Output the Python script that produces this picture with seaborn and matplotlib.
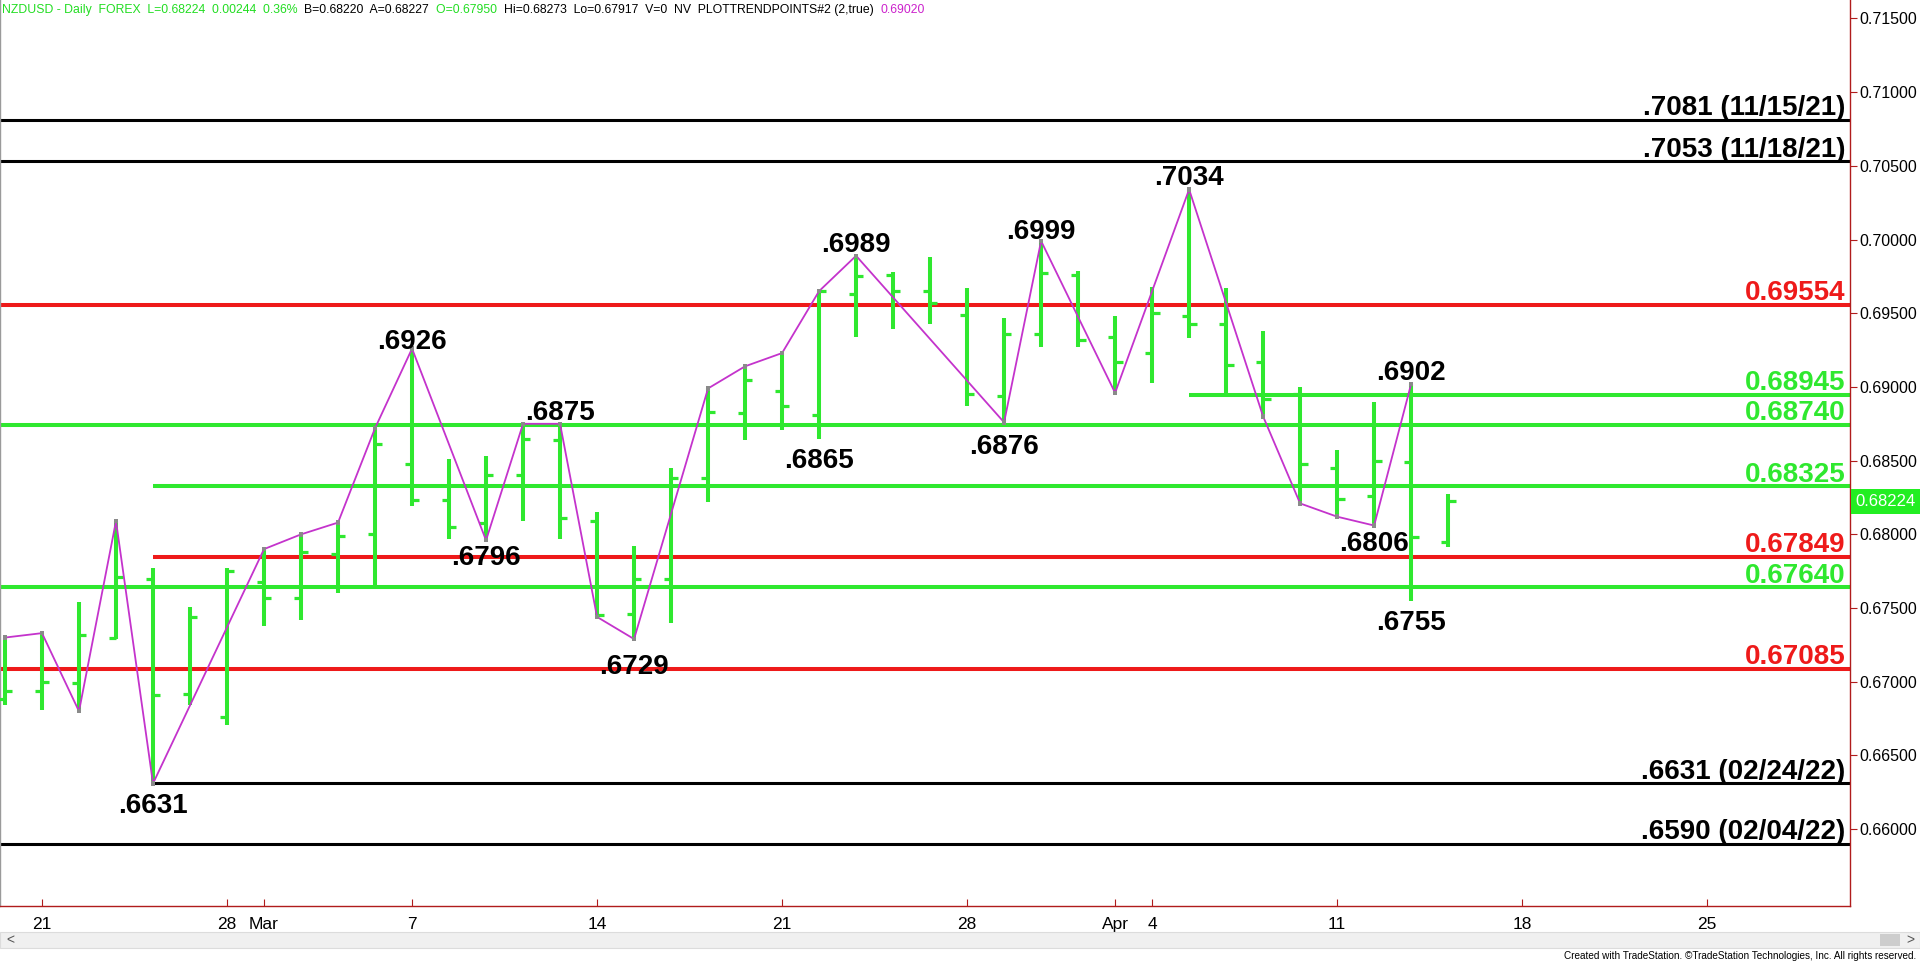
import matplotlib
matplotlib.use("Agg")
import matplotlib.pyplot as plt
import seaborn as sns
import numpy as np
from matplotlib.patches import Rectangle
from matplotlib.transforms import blended_transform_factory

# ---------------- data ----------------
dates = ["02-18", "02-21", "02-22", "02-23", "02-24", "02-25",
         "02-28", "03-01", "03-02", "03-03", "03-04",
         "03-07", "03-08", "03-09", "03-10", "03-11",
         "03-14", "03-15", "03-16", "03-17", "03-18",
         "03-21", "03-22", "03-23", "03-24", "03-25",
         "03-28", "03-29", "03-30", "03-31", "04-01",
         "04-04", "04-05", "04-06", "04-07", "04-08",
         "04-11", "04-12", "04-13", "04-14"]
opens = [0.6688, 0.6694, 0.6699, 0.6730, 0.6770, 0.6692, 0.6676, 0.6768, 0.6757, 0.6787,
         0.6800, 0.6848, 0.6823, 0.6808, 0.6840, 0.6864, 0.6809, 0.6746, 0.6770, 0.6838,
         0.6882, 0.6897, 0.6881, 0.6963, 0.6976, 0.6965, 0.6949, 0.6894, 0.6936, 0.6976,
         0.6934, 0.6923, 0.6948, 0.6943, 0.6917, 0.6895, 0.6845, 0.6826, 0.6849, 0.67950]
highs = [0.6730, 0.6733, 0.6754, 0.6809, 0.6777, 0.6751, 0.6777, 0.6790, 0.6800, 0.6808,
         0.6872, 0.6926, 0.6851, 0.6853, 0.6875, 0.6875, 0.6815, 0.6792, 0.6845, 0.6899,
         0.6914, 0.6923, 0.6965, 0.6989, 0.6978, 0.6988, 0.6967, 0.6947, 0.6999, 0.6979,
         0.6948, 0.6968, 0.7034, 0.6967, 0.6938, 0.6900, 0.6857, 0.6890, 0.6902, 0.68273]
lows = [0.6684, 0.6681, 0.6680, 0.6729, 0.6631, 0.6684, 0.6671, 0.6738, 0.6742, 0.6760,
        0.6765, 0.6819, 0.6797, 0.6796, 0.6809, 0.6797, 0.6744, 0.6729, 0.6740, 0.6822,
        0.6864, 0.6871, 0.6865, 0.6934, 0.6939, 0.6943, 0.6887, 0.6876, 0.6927, 0.6927,
        0.6896, 0.6903, 0.6933, 0.6895, 0.6880, 0.6821, 0.6812, 0.6806, 0.6755, 0.67917]
closes = [0.6694, 0.6700, 0.6732, 0.6771, 0.6691, 0.6744, 0.6775, 0.6757, 0.6788, 0.6799,
          0.6861, 0.6823, 0.6805, 0.6840, 0.6865, 0.6811, 0.6745, 0.6770, 0.6838, 0.6883,
          0.6905, 0.6887, 0.6965, 0.6975, 0.6965, 0.6957, 0.6895, 0.6936, 0.6977, 0.6932,
          0.6917, 0.6950, 0.6943, 0.6915, 0.6892, 0.6848, 0.6824, 0.6850, 0.6798, 0.68224]

# zigzag trend points (bar index, H/L)
pivot_idx = [0, 1, 2, 3, 4, 7, 8, 9, 10, 11, 13, 14, 15, 16, 17, 19, 20, 21, 22, 23,
             27, 28, 30, 32, 34, 35, 36, 37, 38]
pivot_kind = ["H", "H", "L", "H", "L", "H", "H", "H", "H", "H", "L", "H", "H", "L", "L",
              "H", "H", "H", "H", "H", "L", "H", "L", "H", "L", "L", "L", "L", "H"]

# labelled swing points
label_idx = [4, 11, 13, 15, 17, 22, 23, 27, 28, 32, 37, 38, 38]
label_kind = ["L", "H", "L", "H", "L", "L", "H", "L", "H", "H", "L", "H", "L"]
label_text = [".6631", ".6926", ".6796", ".6875", ".6729", ".6865", ".6989", ".6876",
              ".6999", ".7034", ".6806", ".6902", ".6755"]
# vertical text offsets in points (layout only)
label_dy = [-6.6, -0.5, -3.1, 3, -11, -6.6, 3, -8.4, 1.2, 3, -4, 3, -6.6]

# horizontal levels: value, label, colour key, start bar (None = full width)
level_values = [0.7081, 0.7053, 0.69554, 0.68945, 0.68740, 0.68325, 0.67849, 0.67640,
                0.67085, 0.6631, 0.6590]
level_labels = [".7081 (11/15/21)", ".7053 (11/18/21)", "0.69554", "0.68945", "0.68740",
                "0.68325", "0.67849", "0.67640", "0.67085", ".6631 (02/24/22)",
                ".6590 (02/04/22)"]
level_kinds = ["black", "black", "red", "green", "green", "green", "red", "green", "red",
               "black", "black"]
level_start = [None, None, None, 32, None, 4, 4, None, None, 4, None]

xtick_pos = [1, 6, 7, 11, 16, 21, 26, 30, 31, 36, 41, 46]
xtick_labels = ["21", "28", "Mar", "7", "14", "21", "28", "Apr", "4", "11", "18", "25"]
ytick_values = [0.660, 0.665, 0.670, 0.675, 0.680, 0.685, 0.690, 0.695, 0.700, 0.705,
                0.710, 0.715]
last_price = 0.68224

# ---------------- style ----------------
sns.set_theme(style="white")
plt.rcParams["font.family"] = ["Liberation Sans", "DejaVu Sans"]

GREEN = "#2fe82f"
RED = "#ee1a1a"
BLACK = "#000000"
MAGENTA = "#c433cc"
AXIS = "#b01c1c"
colmap = {"green": GREEN, "red": RED, "black": BLACK}

W, H = 1920, 963
fig = plt.figure(figsize=(W / 100, H / 100), dpi=100)
fig.patch.set_facecolor("white")
ax = fig.add_axes([0, 57 / H, 1850 / W, 906 / H])
ax.set_facecolor("white")

xmin, xmax = -0.135, 49.86
ymin, ymax = 0.65479, 0.71625
ax.set_xlim(xmin, xmax)
ax.set_ylim(ymin, ymax)

# levels
for v, lab, k, s in zip(level_values, level_labels, level_kinds, level_start):
    x0 = xmin if s is None else s
    lw = 2.2 if k == "black" else 2.9
    ax.hlines(v, x0, xmax, color=colmap[k], lw=lw, zorder=2)
    tcol = BLACK if k == "black" else colmap[k]
    ax.annotate(lab, xy=(0.9975, v), xycoords=blended_transform_factory(ax.transAxes, ax.transData),
                xytext=(0, 3.5), textcoords="offset points", ha="right", va="baseline",
                fontsize=20, fontweight="bold", color=tcol, zorder=6)

# OHLC bars
xs = np.arange(len(opens))
ax.vlines(xs, lows, highs, color=GREEN, lw=2.9, zorder=3)
ax.hlines(opens, xs - 0.2, xs, color=GREEN, lw=2.3, zorder=3)
ax.hlines(closes, xs, xs + 0.2, color=GREEN, lw=2.3, zorder=3)

# zigzag
pv_y = [highs[i] if k == "H" else lows[i] for i, k in zip(pivot_idx, pivot_kind)]
sns.lineplot(x=pivot_idx, y=pv_y, sort=False, estimator=None, color=MAGENTA, lw=1.3,
             ax=ax, zorder=4)
sns.scatterplot(x=pivot_idx, y=pv_y, marker="s", s=10, color="#8a8a8a", edgecolor="none",
                ax=ax, zorder=5)

# swing labels
for i, k, t, dy in zip(label_idx, label_kind, label_text, label_dy):
    if k == "H":
        ax.annotate(t, xy=(i, highs[i]), xytext=(0, dy), textcoords="offset points",
                    ha="center", va="baseline", fontsize=20, fontweight="bold",
                    color=BLACK, zorder=6)
    else:
        ax.annotate(t, xy=(i, lows[i]), xytext=(0, dy), textcoords="offset points",
                    ha="center", va="top", fontsize=20, fontweight="bold",
                    color=BLACK, zorder=6)

# axes styling
ax.spines["top"].set_visible(False)
ax.spines["left"].set_color("#9a9a9a")
ax.spines["left"].set_linewidth(1.0)
ax.spines["right"].set_color(AXIS)
ax.spines["right"].set_linewidth(1.0)
ax.spines["bottom"].set_color(AXIS)
ax.spines["bottom"].set_linewidth(1.0)

ax.yaxis.tick_right()
ax.set_yticks(ytick_values)
ax.set_yticklabels([f"{v:.5f}" for v in ytick_values])
ax.tick_params(axis="y", which="major", direction="out", length=5, width=0.8,
               color=AXIS, pad=2, labelsize=11.5, labelcolor="black")
ax.set_xticks(xtick_pos)
ax.set_xticklabels(xtick_labels)
ax.tick_params(axis="x", which="major", direction="in", length=5, width=0.8,
               color=AXIS, pad=8, labelsize=12.5, labelcolor="black", bottom=True)
ax.grid(False)

# last price box
ax.annotate(f"{last_price:.5f}", xy=(1.0, last_price),
            xycoords=blended_transform_factory(ax.transAxes, ax.transData),
            xytext=(4, 0), textcoords="offset points", ha="left", va="center",
            fontsize=12, color="white",
            bbox=dict(boxstyle="square,pad=0.28", fc="#22ee22", ec="none"), zorder=7,
            annotation_clip=False)

# scrollbar
fig.patches.append(Rectangle((0, (H - 948) / H), 1, 16 / H, transform=fig.transFigure,
                             facecolor="#f0f0f0", edgecolor="#dcdcdc", lw=0.8))
fig.patches.append(Rectangle((1880 / W, (H - 946) / H), 20 / W, 12 / H,
                             transform=fig.transFigure, facecolor="#cdcdcd",
                             edgecolor="none"))
fig.text(6 / W, 1 - 940 / H, "<", fontsize=10, color="#555555", va="center", ha="left")
fig.text(1914 / W, 1 - 940 / H, ">", fontsize=10, color="#555555", va="center", ha="right")
fig.text(1916 / W, 1 - 956 / H,
         "Created with TradeStation. \u00a9TradeStation Technologies, Inc. All rights reserved.",
         fontsize=7.2, color="black", ha="right", va="center")

# header
segments = [("NZDUSD - Daily  FOREX  L=0.68224  0.00244  0.36%  ", "#22dd22"),
            ("B=0.68220  A=0.68227  ", "black"),
            ("O=0.67950  ", "#22dd22"),
            ("Hi=0.68273  Lo=0.67917  V=0  NV  PLOTTRENDPOINTS#2 (2,true)  ", "black"),
            ("0.69020", "#cc22cc")]
fig.canvas.draw()
renderer = fig.canvas.get_renderer()
xpos = 2
for txt, col in segments:
    t = fig.text(xpos / W, 1 - 10 / H, txt, fontsize=8.8, color=col, ha="left",
                 va="center")
    bb = t.get_window_extent(renderer)
    xpos += bb.width

fig.savefig("out.png", dpi=100, facecolor="white")
